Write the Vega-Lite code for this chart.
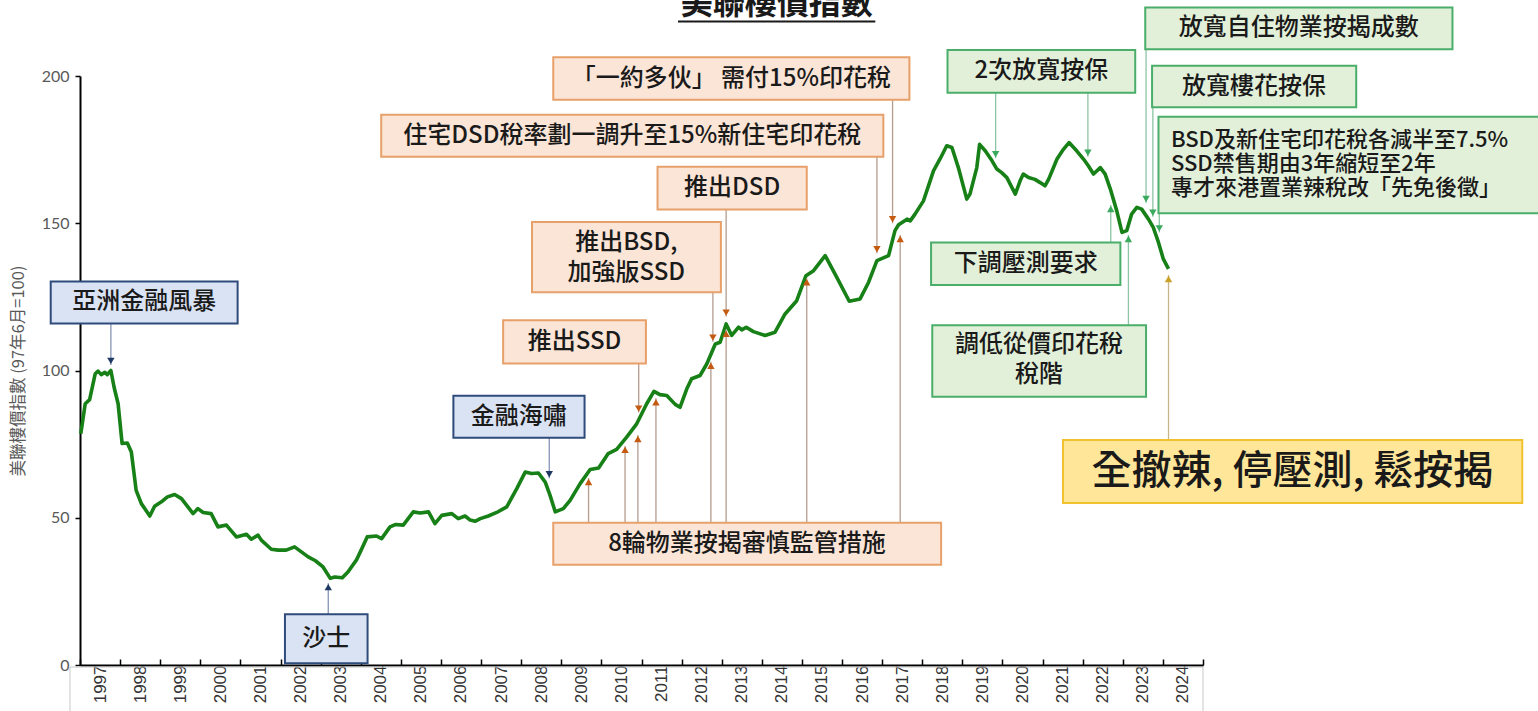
{
  "$schema": "https://vega.github.io/schema/vega-lite/v6.json",
  "width": 1123,
  "height": 589,
  "autosize": {"type": "none"},
  "padding": {"left": 80, "top": 76, "right": 335, "bottom": 46},
  "background": "white",
  "config": {"view": {"stroke": null}, "font": "Noto Sans CJK TC"},
  "datasets": {
    "idx": [
      {"x":1997.02,"y":78.5},{"x":1997.13,"y":88.7},{"x":1997.24,"y":90.1},{"x":1997.38,"y":98.9},{"x":1997.45,"y":99.8},{"x":1997.53,"y":98.6},{"x":1997.62,"y":99.4},{"x":1997.68,"y":98.6},{"x":1997.77,"y":100},{"x":1997.85,"y":94.3},{"x":1997.95,"y":88.7},
      {"x":1998.05,"y":75.2},{"x":1998.18,"y":75.4},{"x":1998.28,"y":72.3},{"x":1998.40,"y":59.3},{"x":1998.53,"y":54.8},{"x":1998.74,"y":50.6},{"x":1998.86,"y":53.9},
      {"x":1999.03,"y":55.4},{"x":1999.18,"y":57.1},{"x":1999.36,"y":57.9},{"x":1999.53,"y":56.5},{"x":1999.82,"y":51.4},{"x":1999.94,"y":53.1},
      {"x":2000.07,"y":51.8},{"x":2000.27,"y":51.4},{"x":2000.44,"y":46.9},{"x":2000.65,"y":47.5},{"x":2000.90,"y":43.5},
      {"x":2001.15,"y":44.4},{"x":2001.27,"y":42.7},{"x":2001.44,"y":44.1},{"x":2001.52,"y":42.4},{"x":2001.77,"y":39.3},{"x":2001.94,"y":39.0},
      {"x":2002.14,"y":39.0},{"x":2002.35,"y":40.1},{"x":2002.52,"y":38.4},{"x":2002.69,"y":36.7},{"x":2002.87,"y":35.4},
      {"x":2003.06,"y":33.3},{"x":2003.24,"y":29.4},{"x":2003.35,"y":29.9},{"x":2003.54,"y":29.6},{"x":2003.68,"y":31.6},{"x":2003.89,"y":35.6},
      {"x":2004.01,"y":39.0},{"x":2004.16,"y":43.5},{"x":2004.39,"y":43.8},{"x":2004.52,"y":42.9},{"x":2004.73,"y":46.9},{"x":2004.86,"y":47.7},
      {"x":2005.06,"y":47.5},{"x":2005.31,"y":52.0},{"x":2005.48,"y":51.6},{"x":2005.69,"y":52.0},{"x":2005.85,"y":48.0},
      {"x":2006.02,"y":50.8},{"x":2006.27,"y":51.4},{"x":2006.43,"y":49.7},{"x":2006.60,"y":50.6},{"x":2006.73,"y":49.2},{"x":2006.85,"y":48.8},{"x":2006.98,"y":49.7},
      {"x":2007.18,"y":50.6},{"x":2007.39,"y":51.8},{"x":2007.64,"y":53.7},{"x":2007.89,"y":59.9},
      {"x":2008.10,"y":65.5},{"x":2008.26,"y":65.0},{"x":2008.43,"y":65.2},{"x":2008.60,"y":62.1},{"x":2008.72,"y":57.6},{"x":2008.85,"y":52.0},
      {"x":2009.05,"y":53.1},{"x":2009.22,"y":55.9},{"x":2009.47,"y":61.6},{"x":2009.72,"y":66.4},{"x":2009.93,"y":66.9},
      {"x":2010.17,"y":71.8},{"x":2010.38,"y":73.2},{"x":2010.63,"y":77.4},{"x":2010.88,"y":81.9},
      {"x":2011.13,"y":88.7},{"x":2011.31,"y":92.9},{"x":2011.46,"y":91.8},{"x":2011.63,"y":91.5},{"x":2011.84,"y":88.5},{"x":2011.96,"y":87.5},
      {"x":2012.13,"y":93.8},{"x":2012.25,"y":97.2},{"x":2012.46,"y":98.3},{"x":2012.63,"y":102.3},{"x":2012.84,"y":109.0},{"x":2012.96,"y":109.6},
      {"x":2013.11,"y":115.8},{"x":2013.25,"y":111.9},{"x":2013.42,"y":114.7},{"x":2013.50,"y":113.8},{"x":2013.61,"y":114.7},{"x":2013.79,"y":113.2},
      {"x":2014.08,"y":111.9},{"x":2014.33,"y":113.0},{"x":2014.58,"y":119.2},{"x":2014.87,"y":123.7},
      {"x":2015.10,"y":132.2},{"x":2015.29,"y":133.9},{"x":2015.58,"y":139.0},{"x":2015.87,"y":131.6},
      {"x":2016.18,"y":123.5},{"x":2016.45,"y":124.3},{"x":2016.66,"y":129.9},{"x":2016.87,"y":137.3},
      {"x":2017.16,"y":139.0},{"x":2017.32,"y":147.5},{"x":2017.41,"y":149.5},{"x":2017.62,"y":151.4},{"x":2017.70,"y":150.8},{"x":2017.82,"y":153.1},
      {"x":2018.03,"y":157.6},{"x":2018.28,"y":167.8},{"x":2018.45,"y":172.0},{"x":2018.61,"y":176.3},{"x":2018.74,"y":175.7},{"x":2018.90,"y":168.9},
      {"x":2019.11,"y":158.2},{"x":2019.19,"y":159.9},{"x":2019.36,"y":168.9},{"x":2019.43,"y":176.8},{"x":2019.57,"y":174.6},{"x":2019.74,"y":171.2},{"x":2019.86,"y":168.4},{"x":2019.98,"y":167.2},
      {"x":2020.11,"y":165.5},{"x":2020.32,"y":159.9},{"x":2020.44,"y":164.4},{"x":2020.52,"y":166.7},{"x":2020.65,"y":165.5},{"x":2020.81,"y":164.9},{"x":2020.94,"y":163.8},
      {"x":2021.06,"y":162.7},{"x":2021.15,"y":164.9},{"x":2021.36,"y":171.8},{"x":2021.52,"y":175.1},{"x":2021.66,"y":177.4},{"x":2021.85,"y":174.6},
      {"x":2022.02,"y":171.8},{"x":2022.14,"y":169.5},{"x":2022.27,"y":166.7},{"x":2022.44,"y":168.9},{"x":2022.56,"y":166.7},{"x":2022.69,"y":161.6},{"x":2022.85,"y":154.2},{"x":2022.98,"y":146.9},
      {"x":2023.10,"y":147.5},{"x":2023.22,"y":153.1},{"x":2023.35,"y":155.4},{"x":2023.47,"y":154.8},{"x":2023.64,"y":151.4},{"x":2023.76,"y":148.6},{"x":2023.89,"y":143.5},
      {"x":2024.01,"y":137.9},{"x":2024.14,"y":134.5}
    ],
    "frame": [{"x":1996.75,"x2":2025,"y":-0.7,"y2":-20}],
    "boxes": [
      {"x":1996.27,"x2":2000.93,"y":130.2,"y2":116.0,"g":"blue"},
      {"x":2002.11,"x2":2004.17,"y":17.2,"y2":0.6,"g":"blue"},
      {"x":2006.31,"x2":2009.58,"y":91.4,"y2":77.2,"g":"blue"},
      {"x":2008.80,"x2":2018.47,"y":48.3,"y2":34.0,"g":"orange"},
      {"x":2007.55,"x2":2011.11,"y":117.1,"y2":102.4,"g":"orange"},
      {"x":2008.27,"x2":2012.98,"y":150.4,"y2":126.6,"g":"orange"},
      {"x":2011.40,"x2":2015.12,"y":169.2,"y2":154.7,"g":"orange"},
      {"x":2004.51,"x2":2017.03,"y":186.8,"y2":172.6,"g":"orange"},
      {"x":2008.80,"x2":2017.68,"y":206.4,"y2":191.9,"g":"orange"},
      {"x":2018.63,"x2":2023.31,"y":208.8,"y2":194.3,"g":"green"},
      {"x":2018.22,"x2":2022.94,"y":143.5,"y2":129.0,"g":"green"},
      {"x":2018.25,"x2":2023.58,"y":115.4,"y2":91.1,"g":"green"},
      {"x":2023.56,"x2":2031.22,"y":223.3,"y2":209.1,"g":"green"},
      {"x":2023.73,"x2":2028.82,"y":203.5,"y2":189.4,"g":"green"},
      {"x":2023.89,"x2":2033.45,"y":186.2,"y2":153.4,"g":"green"},
      {"x":2021.51,"x2":2032.96,"y":76.4,"y2":55.0,"g":"yellow"}
    ],
    "arrows": [
      {"x":1997.77,"y":116.0,"y2":101.9,"g":"blue","d":"down"},
      {"x":2003.19,"y":17.2,"y2":27.8,"g":"blue","d":"up"},
      {"x":2008.70,"y":77.2,"y2":63.4,"g":"blue","d":"down"},
      {"x":2009.68,"y":48.3,"y2":63.5,"g":"orange","d":"up"},
      {"x":2010.59,"y":48.3,"y2":74.4,"g":"orange","d":"up"},
      {"x":2010.91,"y":48.3,"y2":78.1,"g":"orange","d":"up"},
      {"x":2011.36,"y":48.3,"y2":90.6,"g":"orange","d":"up"},
      {"x":2012.73,"y":48.3,"y2":103.0,"g":"orange","d":"up"},
      {"x":2013.11,"y":48.3,"y2":113.8,"g":"orange","d":"up"},
      {"x":2015.12,"y":48.3,"y2":131.3,"g":"orange","d":"up"},
      {"x":2017.45,"y":48.3,"y2":146.0,"g":"orange","d":"up"},
      {"x":2010.93,"y":102.4,"y2":85.7,"g":"orange","d":"down"},
      {"x":2012.78,"y":126.6,"y2":109.8,"g":"orange","d":"down"},
      {"x":2013.11,"y":154.7,"y2":118.3,"g":"orange","d":"down"},
      {"x":2016.87,"y":172.6,"y2":139.8,"g":"orange","d":"down"},
      {"x":2017.26,"y":191.9,"y2":150.0,"g":"orange","d":"down"},
      {"x":2019.83,"y":194.3,"y2":172.1,"g":"green","d":"down"},
      {"x":2022.13,"y":194.3,"y2":172.6,"g":"green","d":"down"},
      {"x":2022.70,"y":143.5,"y2":156.2,"g":"green","d":"up"},
      {"x":2023.14,"y":115.4,"y2":146.0,"g":"green","d":"up"},
      {"x":2023.58,"y":209.1,"y2":156.9,"g":"green","d":"down"},
      {"x":2023.75,"y":189.4,"y2":152.2,"g":"green","d":"down"},
      {"x":2023.91,"y":153.4,"y2":146.9,"g":"green","d":"down"},
      {"x":2024.14,"y":76.4,"y2":132.4,"g":"tan","d":"up"}
    ],
    "labels": [
      {"x":1998.60,"y":123.1,"label":"亞洲金融風暴","fs":24},
      {"x":2003.14,"y":8.9,"label":"沙士","fs":24},
      {"x":2007.94,"y":84.3,"label":"金融海嘯","fs":24},
      {"x":2013.63,"y":41.2,"label":"8輪物業按揭審慎監管措施","fs":24},
      {"x":2009.33,"y":109.8,"label":"推出SSD","fs":24},
      {"x":2010.62,"y":143.3,"label":"推出BSD,\n加強版SSD","fs":24},
      {"x":2013.26,"y":162.0,"label":"推出DSD","fs":24},
      {"x":2010.77,"y":179.7,"label":"住宅DSD稅率劃一調升至15%新住宅印花稅","fs":24},
      {"x":2013.24,"y":199.1,"label":"「一約多伙」 需付15%印花稅","fs":24},
      {"x":2020.97,"y":201.6,"label":"2次放寬按保","fs":24},
      {"x":2020.58,"y":136.3,"label":"下調壓測要求","fs":24},
      {"x":2020.91,"y":108.7,"label":"調低從價印花稅\n稅階","fs":24},
      {"x":2027.39,"y":216.2,"label":"放寬自住物業按揭成數","fs":24},
      {"x":2026.27,"y":196.4,"label":"放寬樓花按保","fs":24},
      {"x":2027.23,"y":65.7,"label":"全撤辣, 停壓測, 鬆按揭","fs":40}
    ],
    "notes": [
      {"x":2024.20,"y":178.3,"label":"BSD及新住宅印花稅各減半至7.5%\nSSD禁售期由3年縮短至2年\n專才來港置業辣稅改「先免後徵」"}
    ],
    "title": [{"x":2014.37,"y":221.2,"label":"美聯樓價指數"}],
    "underline": [{"x":2011.91,"x2":2016.83,"y":218.5}]
  },
  "encoding": {
    "x": {
      "field": "x", "type": "quantitative",
      "scale": {"domain": [1997, 2025], "nice": false, "zero": false},
      "axis": {
        "title": null, "grid": false,
        "values": [1997,1998,1999,2000,2001,2002,2003,2004,2005,2006,2007,2008,2009,2010,2011,2012,2013,2014,2015,2016,2017,2018,2019,2020,2021,2022,2023,2024,2025],
        "format": "d",
        "labelExpr": "datum.value < 2025 ? datum.label : ''",
        "labelOffset": 20, "labelAngle": 270, "labelAlign": "right", "labelBaseline": "middle",
        "labelFlush": false, "labelOverlap": false, "labelBound": false,
        "labelPadding": 6,
        "labelFont": "Liberation Sans", "labelFontSize": 17, "labelColor": "#333333",
        "tickSize": -6, "tickColor": "#000000", "tickWidth": 1.5,
        "domainColor": "#000000", "domainWidth": 2
      }
    },
    "y": {
      "field": "y", "type": "quantitative",
      "scale": {"domain": [0, 200], "nice": false, "zero": false},
      "axis": {
        "title": "美聯樓價指數 (97年6月=100)", "grid": false,
        "values": [0, 50, 100, 150, 200], "format": "d",
        "labelFont": "Lato", "labelFontSize": 16, "labelColor": "#595959", "labelPadding": 6,
        "tickSize": 5, "tickColor": "#000000", "tickWidth": 1.5,
        "domainColor": "#000000", "domainWidth": 2,
        "titleFont": "Noto Sans CJK TC", "titleFontSize": 16.5, "titleFontWeight": "normal",
        "titleColor": "#595959", "titleX": -62, "titleBaseline": "middle"
      }
    }
  },
  "resolve": {"scale": {"fill": "independent", "stroke": "independent"}},
  "layer": [
    {
      "data": {"name": "frame"},
      "mark": {"type": "rect", "fill": "white", "fillOpacity": 0, "stroke": "#c8c8c8", "strokeWidth": 1},
      "encoding": {"x2": {"field": "x2"}, "y2": {"field": "y2"}}
    },
    {
      "data": {"name": "idx"},
      "mark": {"type": "line", "color": "#178017", "strokeWidth": 3.6, "strokeJoin": "round"}
    },
    {
      "data": {"name": "arrows"},
      "mark": {"type": "rule", "strokeWidth": 1.3},
      "encoding": {
        "y2": {"field": "y2"},
        "stroke": {"field": "g", "type": "nominal", "legend": null,
          "scale": {"domain": ["blue", "orange", "green", "tan"], "range": ["#8593b5", "#b59c8e", "#8cc4a4", "#c8b48a"]}}
      }
    },
    {
      "data": {"name": "arrows"},
      "transform": [{"filter": "datum.d == 'down'"}],
      "mark": {"type": "point", "shape": "triangle-down", "filled": true, "size": 55, "opacity": 1, "yOffset": -4},
      "encoding": {
        "y": {"field": "y2", "type": "quantitative"},
        "fill": {"field": "g", "type": "nominal", "legend": null,
          "scale": {"domain": ["blue", "orange", "green", "tan"], "range": ["#1f3864", "#c55a11", "#3aaa5c", "#c9a227"]}}
      }
    },
    {
      "data": {"name": "arrows"},
      "transform": [{"filter": "datum.d == 'up'"}],
      "mark": {"type": "point", "shape": "triangle-up", "filled": true, "size": 55, "opacity": 1, "yOffset": 4},
      "encoding": {
        "y": {"field": "y2", "type": "quantitative"},
        "fill": {"field": "g", "type": "nominal", "legend": null,
          "scale": {"domain": ["blue", "orange", "green", "tan"], "range": ["#1f3864", "#c55a11", "#3aaa5c", "#c9a227"]}}
      }
    },
    {
      "data": {"name": "boxes"},
      "mark": {"type": "rect", "strokeWidth": 2},
      "encoding": {
        "x2": {"field": "x2"}, "y2": {"field": "y2"},
        "fill": {"field": "g", "type": "nominal", "legend": null,
          "scale": {"domain": ["blue", "orange", "green", "yellow"], "range": ["#dae3f3", "#fbe5d6", "#e2f0d9", "#ffe699"]}},
        "stroke": {"field": "g", "type": "nominal", "legend": null,
          "scale": {"domain": ["blue", "orange", "green", "yellow"], "range": ["#2f4b7c", "#e8a06a", "#4aae6a", "#f2c12e"]}}
      }
    },
    {
      "data": {"name": "labels"},
      "mark": {"type": "text", "align": "center", "baseline": "middle", "lineBreak": "\n", "lineHeight": 30,
        "font": "Noto Sans CJK TC", "fontWeight": 500, "color": "#1a1a1a"},
      "encoding": {
        "text": {"field": "label"},
        "size": {"field": "fs", "type": "quantitative", "scale": null}
      }
    },
    {
      "data": {"name": "notes"},
      "mark": {"type": "text", "align": "left", "baseline": "middle", "lineBreak": "\n", "lineHeight": 24,
        "font": "Noto Sans CJK TC", "fontWeight": 500, "fontSize": 22, "color": "#1a1a1a"},
      "encoding": {"text": {"field": "label"}}
    },
    {
      "data": {"name": "title"},
      "mark": {"type": "text", "align": "center", "baseline": "alphabetic",
        "font": "Noto Sans CJK TC", "fontWeight": "bold", "fontSize": 32, "color": "#1a1a1a"},
      "encoding": {"text": {"field": "label"}}
    },
    {
      "data": {"name": "underline"},
      "mark": {"type": "rule", "strokeWidth": 2, "color": "#1a1a1a"},
      "encoding": {"x2": {"field": "x2"}}
    }
  ]
}
